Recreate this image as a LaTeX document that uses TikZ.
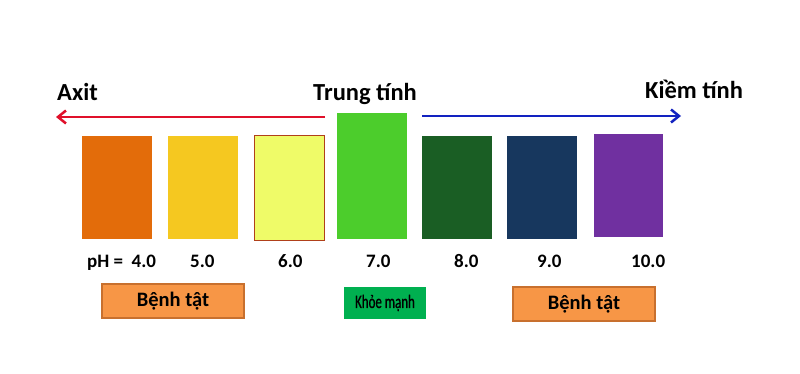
\documentclass[tikz,border=0pt]{standalone}
\usepackage{fontspec}
\setmainfont{Carlito}
\newfontfamily\narrowfont{Carlito}[FakeStretch=0.68,FakeBold=0.6]
\usetikzlibrary{arrows.meta}
\definecolor{cOrange}{HTML}{E36C0A}
\definecolor{cYellow}{HTML}{F5C820}
\definecolor{cLight}{HTML}{EFFB68}
\definecolor{cLightBorder}{HTML}{B0401A}
\definecolor{cGreen}{HTML}{4CCD2C}
\definecolor{cDark}{HTML}{1A5E24}
\definecolor{cNavy}{HTML}{17375E}
\definecolor{cPurple}{HTML}{7030A0}
\definecolor{cRed}{HTML}{E0102A}
\definecolor{cBlue}{HTML}{1222C0}
\definecolor{cSick}{HTML}{F79646}
\definecolor{cSickBorder}{HTML}{C8702E}
\definecolor{cHealthy}{HTML}{00B050}
\tikzset{
  phbox/.style={draw=none, minimum width=70pt, inner sep=0pt, outer sep=0pt},
  title/.style={font=\fontsize{24.5}{24.5}\selectfont\bfseries, anchor=base west, inner sep=0pt},
  phlabel/.style={font=\fontsize{19}{19}\selectfont\bfseries, anchor=base west, inner sep=0pt},
  sick/.style={fill=cSick, draw=cSickBorder, line width=1.3pt, minimum width=142pt, minimum height=34pt, inner sep=0pt,
    font=\fontsize{20.5}{20.5}\selectfont\bfseries},
  healthy/.style={fill=cHealthy, draw=none, minimum width=82pt, minimum height=32pt, inner sep=0pt,
    font=\fontsize{19}{19}\selectfont\narrowfont},
  scalearrow/.style={line width=2.5pt, -{Straight Barb[length=8pt,width=13pt,line width=2.5pt]}}
}
\begin{document}
\begin{tikzpicture}[x=1pt,y=-1pt]
\useasboundingbox (0,0) rectangle (800,374);
\fill[white] (0,0) rectangle (800,374);
% colour boxes
\node[phbox, fill=cOrange, minimum height=103pt, anchor=north west] (b4) at (82,136) {};
\node[phbox, fill=cYellow, minimum height=103pt, anchor=north west] (b5) at (168,136) {};
\node[phbox, fill=cLight, draw=cLightBorder, line width=1pt, minimum width=70pt, minimum height=104pt, anchor=north west] (b6) at (254,136) {};
\node[phbox, fill=cGreen, minimum height=126pt, anchor=north west] (b7) at (337,113) {};
\node[phbox, fill=cDark, minimum height=103pt, anchor=north west] (b8) at (422,136) {};
\node[phbox, fill=cNavy, minimum height=103pt, anchor=north west] (b9) at (507,136) {};
\node[phbox, fill=cPurple, minimum width=69pt, minimum height=103pt, anchor=north west] (b10) at (594,134) {};
% titles
\node[title] (axit) at (57,101) {Axit};
\node[title] (trung) at (313,101) {Trung tính};
\node[title] (kiem) at (645,99) {Kiềm tính};
% arrows
\coordinate (redstart) at (325,117);
\coordinate (redend) at (56,117);
\coordinate (bluestart) at (422,116);
\coordinate (blueend) at (681,116);
\draw[scalearrow, cRed] (redstart) -- (redend);
\draw[scalearrow, cBlue] (bluestart) -- (blueend);
% pH labels
\node[phlabel] (l4) at (87,267) {pH =\ \ 4.0};
\node[phlabel] (l5) at (190,267) {5.0};
\node[phlabel] (l6) at (278,267) {6.0};
\node[phlabel] (l7) at (366,267) {7.0};
\node[phlabel] (l8) at (454,267) {8.0};
\node[phlabel] (l9) at (537,267) {9.0};
\node[phlabel] (l10) at (631,267) {10.0};
% status boxes
\node[sick] (sickL) at (173,301) {Bệnh tật};
\node[healthy] (healthy) at (385,303) {Khỏe mạnh};
\node[sick] (sickR) at (584,304) {Bệnh tật};
\end{tikzpicture}
\end{document}
